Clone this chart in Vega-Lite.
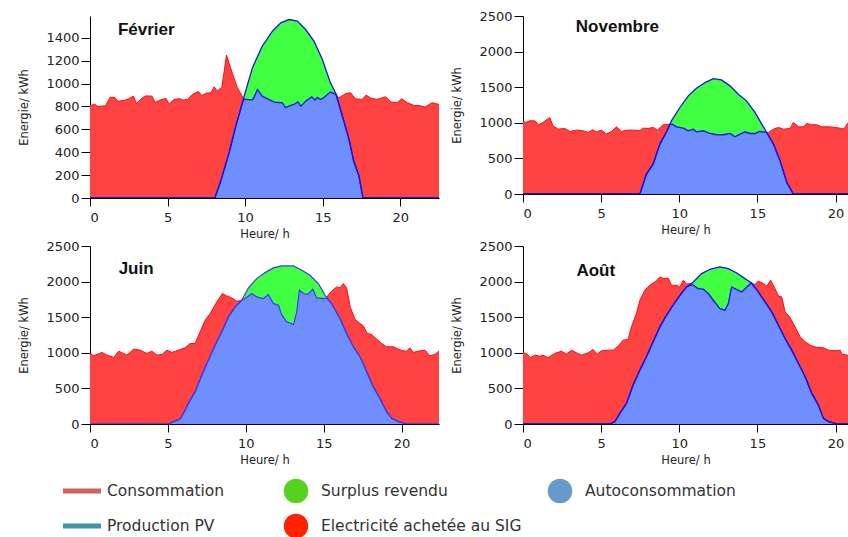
{
"$schema": "https://vega.github.io/schema/vega-lite/v6.json",
"padding": {"left": 18, "top": 10, "right": 0, "bottom": 0},
"background": "white",
"config": {
 "view": {"stroke": null},
 "axis": {"grid": false, "domainColor": "#000", "tickColor": "#000", "labelFont": "DejaVu Sans", "labelFontSize": 13, "labelColor": "#222", "titleFont": "DejaVu Sans", "titleFontSize": 11.5, "titleFontWeight": "normal", "titleColor": "#222", "format": "d", "labelOverlap": false},
 "axisY": {"titlePadding": 16, "tickSize": 9, "labelPadding": 2},
 "axisX": {"titlePadding": 4, "tickSize": 8, "labelPadding": 5}
},
"datasets": {
 "fev_cons": [{"t":0,"v":805},{"t":0.3,"v":820},{"t":0.5,"v":800},{"t":1.0,"v":805},{"t":1.3,"v":880},{"t":1.6,"v":878},{"t":1.8,"v":845},{"t":2.2,"v":852},{"t":2.5,"v":868},{"t":2.8,"v":890},{"t":3.0,"v":825},{"t":3.3,"v":868},{"t":3.6,"v":892},{"t":4.0,"v":890},{"t":4.2,"v":835},{"t":4.5,"v":855},{"t":4.9,"v":870},{"t":5.1,"v":818},{"t":5.4,"v":860},{"t":5.8,"v":868},{"t":6.0,"v":855},{"t":6.3,"v":862},{"t":6.6,"v":905},{"t":7.0,"v":930},{"t":7.2,"v":895},{"t":7.5,"v":915},{"t":7.8,"v":920},{"t":8.0,"v":970},{"t":8.2,"v":935},{"t":8.5,"v":965},{"t":8.8,"v":1248},{"t":9.2,"v":1080},{"t":9.5,"v":963},{"t":9.9,"v":870},{"t":10.3,"v":858},{"t":10.5,"v":860},{"t":10.8,"v":948},{"t":11.1,"v":890},{"t":11.55,"v":860},{"t":11.9,"v":838},{"t":12.4,"v":832},{"t":12.6,"v":790},{"t":12.9,"v":808},{"t":13.15,"v":817},{"t":13.4,"v":840},{"t":13.6,"v":803},{"t":13.9,"v":846},{"t":14.3,"v":884},{"t":14.5,"v":855},{"t":14.65,"v":880},{"t":14.85,"v":860},{"t":15.0,"v":870},{"t":15.5,"v":925},{"t":15.85,"v":905},{"t":16.05,"v":875},{"t":16.5,"v":913},{"t":16.8,"v":919},{"t":17.1,"v":867},{"t":17.55,"v":861},{"t":17.8,"v":899},{"t":18.1,"v":873},{"t":18.5,"v":861},{"t":19.05,"v":884},{"t":19.4,"v":838},{"t":19.8,"v":832},{"t":20.1,"v":867},{"t":20.45,"v":832},{"t":20.9,"v":808},{"t":21.2,"v":808},{"t":21.6,"v":794},{"t":22.05,"v":832},{"t":22.5,"v":817}],
 "fev_pv": [{"t":0,"v":0},{"t":8.05,"v":0},{"t":8.43,"v":148},{"t":8.97,"v":396},{"t":9.4,"v":628},{"t":9.94,"v":890},{"t":10.47,"v":1137},{"t":11.1,"v":1326},{"t":11.33,"v":1370},{"t":11.76,"v":1457},{"t":12.3,"v":1530},{"t":12.83,"v":1559},{"t":13.37,"v":1545},{"t":13.9,"v":1472},{"t":14.44,"v":1370},{"t":14.98,"v":1210},{"t":15.5,"v":1006},{"t":15.88,"v":905},{"t":16.27,"v":716},{"t":16.7,"v":512},{"t":17.0,"v":323},{"t":17.34,"v":192},{"t":17.6,"v":0},{"t":22.5,"v":0}],
 "fev_auto": [{"t":0,"v":0},{"t":8.05,"v":0},{"t":8.43,"v":148},{"t":8.97,"v":396},{"t":9.4,"v":628},{"t":9.9,"v":865},{"t":10.3,"v":858},{"t":10.5,"v":860},{"t":10.8,"v":948},{"t":11.1,"v":890},{"t":11.55,"v":860},{"t":11.9,"v":838},{"t":12.4,"v":832},{"t":12.6,"v":790},{"t":12.9,"v":808},{"t":13.15,"v":817},{"t":13.4,"v":840},{"t":13.6,"v":803},{"t":13.9,"v":846},{"t":14.3,"v":884},{"t":14.5,"v":855},{"t":14.65,"v":880},{"t":14.85,"v":860},{"t":15.0,"v":870},{"t":15.5,"v":925},{"t":15.85,"v":905},{"t":16.27,"v":716},{"t":16.7,"v":512},{"t":17.0,"v":323},{"t":17.34,"v":192},{"t":17.6,"v":0},{"t":22.5,"v":0}],
 "nov_cons": [{"t":0,"v":1028},{"t":0.17,"v":1005},{"t":0.43,"v":1028},{"t":0.75,"v":1028},{"t":1.0,"v":972},{"t":1.28,"v":1005},{"t":1.7,"v":1075},{"t":1.92,"v":958},{"t":2.24,"v":911},{"t":2.67,"v":920},{"t":3.0,"v":878},{"t":3.42,"v":897},{"t":3.85,"v":888},{"t":4.17,"v":864},{"t":4.44,"v":902},{"t":4.7,"v":874},{"t":5.02,"v":897},{"t":5.34,"v":841},{"t":5.66,"v":878},{"t":5.98,"v":944},{"t":6.3,"v":878},{"t":6.62,"v":897},{"t":7.05,"v":897},{"t":7.48,"v":888},{"t":7.7,"v":925},{"t":8.0,"v":920},{"t":8.33,"v":935},{"t":8.6,"v":897},{"t":8.97,"v":972},{"t":9.4,"v":981},{"t":9.55,"v":981},{"t":9.83,"v":944},{"t":10.26,"v":925},{"t":10.58,"v":888},{"t":10.9,"v":911},{"t":11.1,"v":874},{"t":11.54,"v":888},{"t":11.97,"v":850},{"t":12.4,"v":832},{"t":12.82,"v":832},{"t":13.25,"v":850},{"t":13.57,"v":804},{"t":13.9,"v":841},{"t":14.2,"v":874},{"t":14.53,"v":850},{"t":14.85,"v":850},{"t":15.13,"v":878},{"t":15.38,"v":874},{"t":15.7,"v":864},{"t":16.03,"v":911},{"t":16.35,"v":935},{"t":16.67,"v":911},{"t":17.1,"v":920},{"t":17.3,"v":1005},{"t":17.63,"v":944},{"t":17.95,"v":944},{"t":18.16,"v":991},{"t":18.48,"v":972},{"t":18.8,"v":972},{"t":19.12,"v":944},{"t":19.55,"v":944},{"t":19.98,"v":935},{"t":20.4,"v":920},{"t":20.55,"v":911},{"t":20.77,"v":991},{"t":21,"v":1000}],
 "nov_pv": [{"t":0,"v":0},{"t":7.48,"v":0},{"t":7.9,"v":280},{"t":8.33,"v":420},{"t":8.76,"v":701},{"t":9.19,"v":874},{"t":9.5,"v":1028},{"t":10.04,"v":1215},{"t":10.58,"v":1379},{"t":11.1,"v":1486},{"t":11.65,"v":1565},{"t":12.18,"v":1621},{"t":12.7,"v":1603},{"t":13.25,"v":1519},{"t":13.78,"v":1402},{"t":14.3,"v":1308},{"t":14.85,"v":1145},{"t":15.28,"v":981},{"t":15.6,"v":864},{"t":16.03,"v":701},{"t":16.45,"v":467},{"t":16.88,"v":164},{"t":17.3,"v":0},{"t":21,"v":0}],
 "nov_auto": [{"t":0,"v":0},{"t":7.48,"v":0},{"t":7.9,"v":280},{"t":8.33,"v":420},{"t":8.76,"v":701},{"t":9.19,"v":874},{"t":9.4,"v":975},{"t":9.55,"v":981},{"t":9.83,"v":944},{"t":10.26,"v":925},{"t":10.58,"v":888},{"t":10.9,"v":911},{"t":11.1,"v":874},{"t":11.54,"v":888},{"t":11.97,"v":850},{"t":12.4,"v":832},{"t":12.82,"v":832},{"t":13.25,"v":850},{"t":13.57,"v":804},{"t":13.9,"v":841},{"t":14.2,"v":874},{"t":14.53,"v":850},{"t":14.85,"v":850},{"t":15.13,"v":878},{"t":15.38,"v":874},{"t":15.6,"v":864},{"t":16.03,"v":701},{"t":16.45,"v":467},{"t":16.88,"v":164},{"t":17.3,"v":0},{"t":21,"v":0}],
 "jun_cons": [{"t":0,"v":991},{"t":0.23,"v":958},{"t":0.77,"v":1005},{"t":1.09,"v":967},{"t":1.52,"v":935},{"t":1.84,"v":1023},{"t":2.37,"v":967},{"t":2.8,"v":1051},{"t":3.23,"v":1037},{"t":3.65,"v":991},{"t":3.97,"v":1023},{"t":4.3,"v":967},{"t":4.62,"v":977},{"t":4.94,"v":1037},{"t":5.26,"v":1005},{"t":5.68,"v":1037},{"t":6.11,"v":1070},{"t":6.43,"v":1131},{"t":6.75,"v":1131},{"t":7.07,"v":1294},{"t":7.39,"v":1458},{"t":7.71,"v":1551},{"t":8.14,"v":1715},{"t":8.5,"v":1832},{"t":8.78,"v":1799},{"t":9.1,"v":1771},{"t":9.42,"v":1724},{"t":9.74,"v":1738},{"t":9.96,"v":1762},{"t":10.38,"v":1832},{"t":10.7,"v":1785},{"t":11.13,"v":1762},{"t":11.45,"v":1818},{"t":11.77,"v":1692},{"t":12.1,"v":1668},{"t":12.3,"v":1537},{"t":12.63,"v":1435},{"t":13.06,"v":1397},{"t":13.27,"v":1575},{"t":13.44,"v":1879},{"t":13.7,"v":1832},{"t":13.95,"v":1818},{"t":14.3,"v":1893},{"t":14.55,"v":1771},{"t":14.98,"v":1762},{"t":15.2,"v":1785},{"t":15.5,"v":1864},{"t":15.83,"v":1925},{"t":16.05,"v":1911},{"t":16.26,"v":1972},{"t":16.47,"v":1911},{"t":16.7,"v":1645},{"t":17.0,"v":1472},{"t":17.33,"v":1411},{"t":17.54,"v":1379},{"t":17.8,"v":1271},{"t":18.08,"v":1257},{"t":18.4,"v":1192},{"t":18.72,"v":1131},{"t":19.04,"v":1084},{"t":19.47,"v":1084},{"t":19.79,"v":1051},{"t":20.1,"v":1028},{"t":20.32,"v":1023},{"t":20.53,"v":1070},{"t":20.75,"v":1005},{"t":21.07,"v":1023},{"t":21.5,"v":1037},{"t":21.8,"v":958},{"t":22.14,"v":977},{"t":22.46,"v":1037},{"t":22.7,"v":1005}],
 "jun_pv": [{"t":0,"v":0},{"t":5.04,"v":0},{"t":5.36,"v":33},{"t":5.79,"v":70},{"t":6.11,"v":196},{"t":6.43,"v":336},{"t":6.75,"v":453},{"t":7.18,"v":687},{"t":7.6,"v":897},{"t":8.03,"v":1107},{"t":8.46,"v":1294},{"t":8.89,"v":1505},{"t":9.32,"v":1645},{"t":9.74,"v":1738},{"t":10.17,"v":1911},{"t":10.7,"v":2042},{"t":11.24,"v":2126},{"t":11.77,"v":2192},{"t":12.3,"v":2220},{"t":13.06,"v":2220},{"t":13.6,"v":2159},{"t":14.12,"v":2089},{"t":14.66,"v":1972},{"t":15.09,"v":1808},{"t":15.5,"v":1692},{"t":16.05,"v":1481},{"t":16.47,"v":1271},{"t":16.9,"v":1084},{"t":17.33,"v":944},{"t":17.76,"v":734},{"t":18.18,"v":523},{"t":18.6,"v":360},{"t":19.04,"v":173},{"t":19.36,"v":79},{"t":19.79,"v":33},{"t":20.2,"v":9},{"t":20.4,"v":0},{"t":22.7,"v":0}],
 "jun_auto": [{"t":0,"v":0},{"t":5.04,"v":0},{"t":5.36,"v":33},{"t":5.79,"v":70},{"t":6.11,"v":196},{"t":6.43,"v":336},{"t":6.75,"v":453},{"t":7.18,"v":687},{"t":7.6,"v":897},{"t":8.03,"v":1107},{"t":8.46,"v":1294},{"t":8.89,"v":1505},{"t":9.32,"v":1645},{"t":9.74,"v":1738},{"t":9.96,"v":1762},{"t":10.38,"v":1832},{"t":10.7,"v":1785},{"t":11.13,"v":1762},{"t":11.45,"v":1818},{"t":11.77,"v":1692},{"t":12.1,"v":1668},{"t":12.3,"v":1537},{"t":12.63,"v":1435},{"t":13.06,"v":1397},{"t":13.27,"v":1575},{"t":13.44,"v":1879},{"t":13.7,"v":1832},{"t":13.95,"v":1818},{"t":14.3,"v":1893},{"t":14.55,"v":1771},{"t":14.98,"v":1762},{"t":15.2,"v":1770},{"t":15.5,"v":1692},{"t":16.05,"v":1481},{"t":16.47,"v":1271},{"t":16.9,"v":1084},{"t":17.33,"v":944},{"t":17.76,"v":734},{"t":18.18,"v":523},{"t":18.6,"v":360},{"t":19.04,"v":173},{"t":19.36,"v":79},{"t":19.79,"v":33},{"t":20.2,"v":9},{"t":20.4,"v":0},{"t":22.7,"v":0}],
 "aou_cons": [{"t":0,"v":1000},{"t":0.26,"v":981},{"t":0.47,"v":930},{"t":0.75,"v":967},{"t":1.07,"v":953},{"t":1.28,"v":967},{"t":1.6,"v":930},{"t":2.03,"v":991},{"t":2.46,"v":1023},{"t":2.78,"v":981},{"t":3.1,"v":1037},{"t":3.42,"v":1000},{"t":3.74,"v":967},{"t":4.17,"v":1000},{"t":4.49,"v":1047},{"t":4.74,"v":977},{"t":5.02,"v":1028},{"t":5.45,"v":1037},{"t":5.77,"v":1037},{"t":6.09,"v":1093},{"t":6.41,"v":1178},{"t":6.73,"v":1187},{"t":6.94,"v":1364},{"t":7.26,"v":1551},{"t":7.48,"v":1738},{"t":7.8,"v":1879},{"t":8.12,"v":1949},{"t":8.44,"v":1995},{"t":8.76,"v":2065},{"t":9.02,"v":2042},{"t":9.29,"v":2051},{"t":9.5,"v":1949},{"t":9.83,"v":1949},{"t":10.04,"v":1925},{"t":10.26,"v":2019},{"t":10.47,"v":1963},{"t":10.68,"v":1972},{"t":10.9,"v":1949},{"t":11.2,"v":1902},{"t":11.54,"v":1893},{"t":11.86,"v":1832},{"t":12.18,"v":1738},{"t":12.6,"v":1621},{"t":12.93,"v":1598},{"t":13.14,"v":1692},{"t":13.35,"v":1925},{"t":13.68,"v":1888},{"t":14.0,"v":1855},{"t":14.32,"v":1925},{"t":14.57,"v":1981},{"t":14.85,"v":1958},{"t":15.06,"v":2009},{"t":15.38,"v":1972},{"t":15.6,"v":1935},{"t":15.85,"v":2019},{"t":16.13,"v":1902},{"t":16.35,"v":1794},{"t":16.56,"v":1785},{"t":16.77,"v":1575},{"t":17.09,"v":1495},{"t":17.41,"v":1364},{"t":17.74,"v":1224},{"t":18.06,"v":1154},{"t":18.38,"v":1107},{"t":18.8,"v":1075},{"t":19.23,"v":1070},{"t":19.55,"v":1037},{"t":19.98,"v":1028},{"t":20.3,"v":1037},{"t":20.4,"v":981},{"t":20.77,"v":967},{"t":21,"v":960}],
 "aou_pv": [{"t":0,"v":0},{"t":5.56,"v":0},{"t":5.88,"v":33},{"t":6.2,"v":150},{"t":6.62,"v":290},{"t":7.05,"v":547},{"t":7.48,"v":757},{"t":7.9,"v":944},{"t":8.33,"v":1154},{"t":8.76,"v":1364},{"t":9.19,"v":1528},{"t":9.6,"v":1668},{"t":10.04,"v":1808},{"t":10.47,"v":1925},{"t":10.9,"v":1995},{"t":11.43,"v":2112},{"t":11.97,"v":2173},{"t":12.6,"v":2206},{"t":13.14,"v":2182},{"t":13.68,"v":2121},{"t":14.2,"v":2042},{"t":14.64,"v":1981},{"t":15.06,"v":1855},{"t":15.49,"v":1715},{"t":15.92,"v":1575},{"t":16.35,"v":1388},{"t":16.77,"v":1201},{"t":17.2,"v":1037},{"t":17.63,"v":850},{"t":18.06,"v":664},{"t":18.48,"v":430},{"t":18.9,"v":266},{"t":19.23,"v":79},{"t":19.55,"v":33},{"t":19.98,"v":9},{"t":20.1,"v":0},{"t":21,"v":0}],
 "aou_auto": [{"t":0,"v":0},{"t":5.56,"v":0},{"t":5.88,"v":33},{"t":6.2,"v":150},{"t":6.62,"v":290},{"t":7.05,"v":547},{"t":7.48,"v":757},{"t":7.9,"v":944},{"t":8.33,"v":1154},{"t":8.76,"v":1364},{"t":9.19,"v":1528},{"t":9.6,"v":1668},{"t":10.04,"v":1808},{"t":10.47,"v":1925},{"t":10.75,"v":1955},{"t":10.9,"v":1949},{"t":11.2,"v":1902},{"t":11.54,"v":1893},{"t":11.86,"v":1832},{"t":12.18,"v":1738},{"t":12.6,"v":1621},{"t":12.93,"v":1598},{"t":13.14,"v":1692},{"t":13.35,"v":1925},{"t":13.68,"v":1888},{"t":14.0,"v":1855},{"t":14.32,"v":1925},{"t":14.6,"v":1981},{"t":15.06,"v":1855},{"t":15.49,"v":1715},{"t":15.92,"v":1575},{"t":16.35,"v":1388},{"t":16.77,"v":1201},{"t":17.2,"v":1037},{"t":17.63,"v":850},{"t":18.06,"v":664},{"t":18.48,"v":430},{"t":18.9,"v":266},{"t":19.23,"v":79},{"t":19.55,"v":33},{"t":19.98,"v":9},{"t":20.1,"v":0},{"t":21,"v":0}],
 "titles": [{"month": "Février"}, {"month": "Novembre"}, {"month": "Juin"}, {"month": "Août"}],
 "legend": [
  {"label":"Consommation","col":0,"row":0,"kind":"line"},
  {"label":"Production PV","col":0,"row":1,"kind":"line"},
  {"label":"Surplus revendu","col":1,"row":0,"kind":"dot"},
  {"label":"Electricité achetée au SIG","col":1,"row":1,"kind":"dot"},
  {"label":"Autoconsommation","col":2,"row":0,"kind":"dot"}
 ]
},
"vconcat": [
 {"hconcat": [
  {"width": 349, "height": 182,
   "layer": [
    {"encoding": {
      "x": {"field": "t", "type": "quantitative", "scale": {"domain": [0, 22.5], "nice": false, "zero": false}, "axis": {"values": [0,5,10,15,20], "title": "Heure/ h"}},
      "y": {"field": "v", "type": "quantitative", "scale": {"domain": [0, 1590], "nice": false}, "axis": {"values": [0,200,400,600,800,1000,1200,1400], "title": "Energie/ kWh"}}
     },
     "layer": [
      {"data": {"name": "fev_cons"}, "mark": {"type": "area", "color": "#ff4242", "clip": true}},
      {"data": {"name": "fev_cons"}, "mark": {"type": "line", "color": "#ff0a0a", "strokeWidth": 1, "clip": true}},
      {"data": {"name": "fev_pv"}, "mark": {"type": "area", "color": "#41ff41", "clip": true}},
      {"data": {"name": "fev_auto"}, "mark": {"type": "area", "color": "#6f8fff", "clip": true}},
      {"data": {"name": "fev_pv"}, "mark": {"type": "line", "color": "#1414e6", "strokeWidth": 1.3, "clip": true}},
      {"data": {"name": "fev_auto"}, "mark": {"type": "line", "color": "#1414e6", "strokeWidth": 1.3, "clip": true}}
     ]},
    {"data": {"name": "titles"}, "transform": [{"filter": "datum.month === 'Février'"}],
     "mark": {"type": "text", "font": "Liberation Sans", "fontWeight": "bold", "fontSize": 17, "align": "left", "baseline": "middle", "color": "#111"},
     "encoding": {
      "x": {"datum": 1.8, "type": "quantitative", "axis": {"values": [0,5,10,15,20], "title": "Heure/ h"}},
      "y": {"datum": 1466, "type": "quantitative", "axis": {"values": [0,200,400,600,800,1000,1200,1400], "title": "Energie/ kWh"}},
      "text": {"field": "month"}}}
   ]},
  {"width": 325, "height": 178,
   "layer": [
    {"encoding": {
      "x": {"field": "t", "type": "quantitative", "scale": {"domain": [0, 20.8], "nice": false, "zero": false}, "axis": {"values": [0,5,10,15,20], "title": "Heure/ h"}},
      "y": {"field": "v", "type": "quantitative", "scale": {"domain": [0, 2500], "nice": false}, "axis": {"values": [0,500,1000,1500,2000,2500], "title": "Energie/ kWh"}}
     },
     "layer": [
      {"data": {"name": "nov_cons"}, "mark": {"type": "area", "color": "#ff4242", "clip": true}},
      {"data": {"name": "nov_cons"}, "mark": {"type": "line", "color": "#ff0a0a", "strokeWidth": 1, "clip": true}},
      {"data": {"name": "nov_pv"}, "mark": {"type": "area", "color": "#41ff41", "clip": true}},
      {"data": {"name": "nov_auto"}, "mark": {"type": "area", "color": "#6f8fff", "clip": true}},
      {"data": {"name": "nov_pv"}, "mark": {"type": "line", "color": "#1414e6", "strokeWidth": 1.3, "clip": true}},
      {"data": {"name": "nov_auto"}, "mark": {"type": "line", "color": "#1414e6", "strokeWidth": 1.3, "clip": true}}
     ]},
    {"data": {"name": "titles"}, "transform": [{"filter": "datum.month === 'Novembre'"}],
     "mark": {"type": "text", "font": "Liberation Sans", "fontWeight": "bold", "fontSize": 17, "align": "left", "baseline": "middle", "color": "#111"},
     "encoding": {
      "x": {"datum": 3.38, "type": "quantitative", "axis": {"values": [0,5,10,15,20], "title": "Heure/ h"}},
      "y": {"datum": 2346, "type": "quantitative", "axis": {"values": [0,500,1000,1500,2000,2500], "title": "Energie/ kWh"}},
      "text": {"field": "month"}}}
   ]}
 ], "spacing": 12},
 {"hconcat": [
  {"width": 349, "height": 178,
   "layer": [
    {"encoding": {
      "x": {"field": "t", "type": "quantitative", "scale": {"domain": [0, 22.4], "nice": false, "zero": false}, "axis": {"values": [0,5,10,15,20], "title": "Heure/ h"}},
      "y": {"field": "v", "type": "quantitative", "scale": {"domain": [0, 2500], "nice": false}, "axis": {"values": [0,500,1000,1500,2000,2500], "title": "Energie/ kWh"}}
     },
     "layer": [
      {"data": {"name": "jun_cons"}, "mark": {"type": "area", "color": "#ff4242", "clip": true}},
      {"data": {"name": "jun_cons"}, "mark": {"type": "line", "color": "#ff0a0a", "strokeWidth": 1, "clip": true}},
      {"data": {"name": "jun_pv"}, "mark": {"type": "area", "color": "#41ff41", "clip": true}},
      {"data": {"name": "jun_auto"}, "mark": {"type": "area", "color": "#6f8fff", "clip": true}},
      {"data": {"name": "jun_pv"}, "mark": {"type": "line", "color": "#3a3af0", "strokeWidth": 1.2, "clip": true}},
      {"data": {"name": "jun_auto"}, "mark": {"type": "line", "color": "#3a3af0", "strokeWidth": 1.2, "clip": true}}
     ]},
    {"data": {"name": "titles"}, "transform": [{"filter": "datum.month === 'Juin'"}],
     "mark": {"type": "text", "font": "Liberation Sans", "fontWeight": "bold", "fontSize": 17, "align": "left", "baseline": "middle", "color": "#111"},
     "encoding": {
      "x": {"datum": 1.84, "type": "quantitative", "axis": {"values": [0,5,10,15,20], "title": "Heure/ h"}},
      "y": {"datum": 2182, "type": "quantitative", "axis": {"values": [0,500,1000,1500,2000,2500], "title": "Energie/ kWh"}},
      "text": {"field": "month"}}}
   ]},
  {"width": 325, "height": 178,
   "layer": [
    {"encoding": {
      "x": {"field": "t", "type": "quantitative", "scale": {"domain": [0, 20.8], "nice": false, "zero": false}, "axis": {"values": [0,5,10,15,20], "title": "Heure/ h"}},
      "y": {"field": "v", "type": "quantitative", "scale": {"domain": [0, 2500], "nice": false}, "axis": {"values": [0,500,1000,1500,2000,2500], "title": "Energie/ kWh"}}
     },
     "layer": [
      {"data": {"name": "aou_cons"}, "mark": {"type": "area", "color": "#ff4242", "clip": true}},
      {"data": {"name": "aou_cons"}, "mark": {"type": "line", "color": "#ff0a0a", "strokeWidth": 1, "clip": true}},
      {"data": {"name": "aou_pv"}, "mark": {"type": "area", "color": "#41ff41", "clip": true}},
      {"data": {"name": "aou_auto"}, "mark": {"type": "area", "color": "#6f8fff", "clip": true}},
      {"data": {"name": "aou_pv"}, "mark": {"type": "line", "color": "#1414e6", "strokeWidth": 1.3, "clip": true}},
      {"data": {"name": "aou_auto"}, "mark": {"type": "line", "color": "#1414e6", "strokeWidth": 1.3, "clip": true}}
     ]},
    {"data": {"name": "titles"}, "transform": [{"filter": "datum.month === 'Août'"}],
     "mark": {"type": "text", "font": "Liberation Sans", "fontWeight": "bold", "fontSize": 17, "align": "left", "baseline": "middle", "color": "#111"},
     "encoding": {
      "x": {"datum": 3.42, "type": "quantitative", "axis": {"values": [0,5,10,15,20], "title": "Heure/ h"}},
      "y": {"datum": 2146, "type": "quantitative", "axis": {"values": [0,500,1000,1500,2000,2500], "title": "Energie/ kWh"}},
      "text": {"field": "month"}}}
   ]}
 ], "spacing": 12},
 {"width": 757, "height": 61,
  "data": {"name": "legend"},
  "encoding": {
   "x": {"field": "col", "type": "quantitative", "scale": {"domain": [0, 1, 2], "range": [-8, 206, 470]}, "axis": null},
   "y": {"field": "row", "type": "quantitative", "scale": {"domain": [0, 1], "range": [25, 60]}, "axis": null}
  },
  "layer": [
   {"transform": [{"filter": "datum.kind === 'line'"}], "mark": {"type": "tick", "orient": "horizontal", "size": 38, "thickness": 5, "opacity": 1},
    "encoding": {"color": {"field": "label", "type": "nominal", "scale": {"domain": ["Consommation", "Production PV", "Surplus revendu", "Electricité achetée au SIG", "Autoconsommation"], "range": ["#d0645c", "#3a96ac", "#55d21e", "#ff2200", "#6699cc"]}, "legend": null}}},
   {"transform": [{"filter": "datum.kind === 'dot'"}], "mark": {"type": "point", "filled": true, "shape": "circle", "size": 600, "opacity": 1},
    "encoding": {"color": {"field": "label", "type": "nominal", "scale": {"domain": ["Consommation", "Production PV", "Surplus revendu", "Electricité achetée au SIG", "Autoconsommation"], "range": ["#d0645c", "#3a96ac", "#55d21e", "#ff2200", "#6699cc"]}, "legend": null}}},
   {"mark": {"type": "text", "align": "left", "baseline": "middle", "dx": 25, "font": "DejaVu Sans", "fontSize": 15.5, "color": "#333"},
    "encoding": {"text": {"field": "label"}}}
  ]}
],
"spacing": 0
}
